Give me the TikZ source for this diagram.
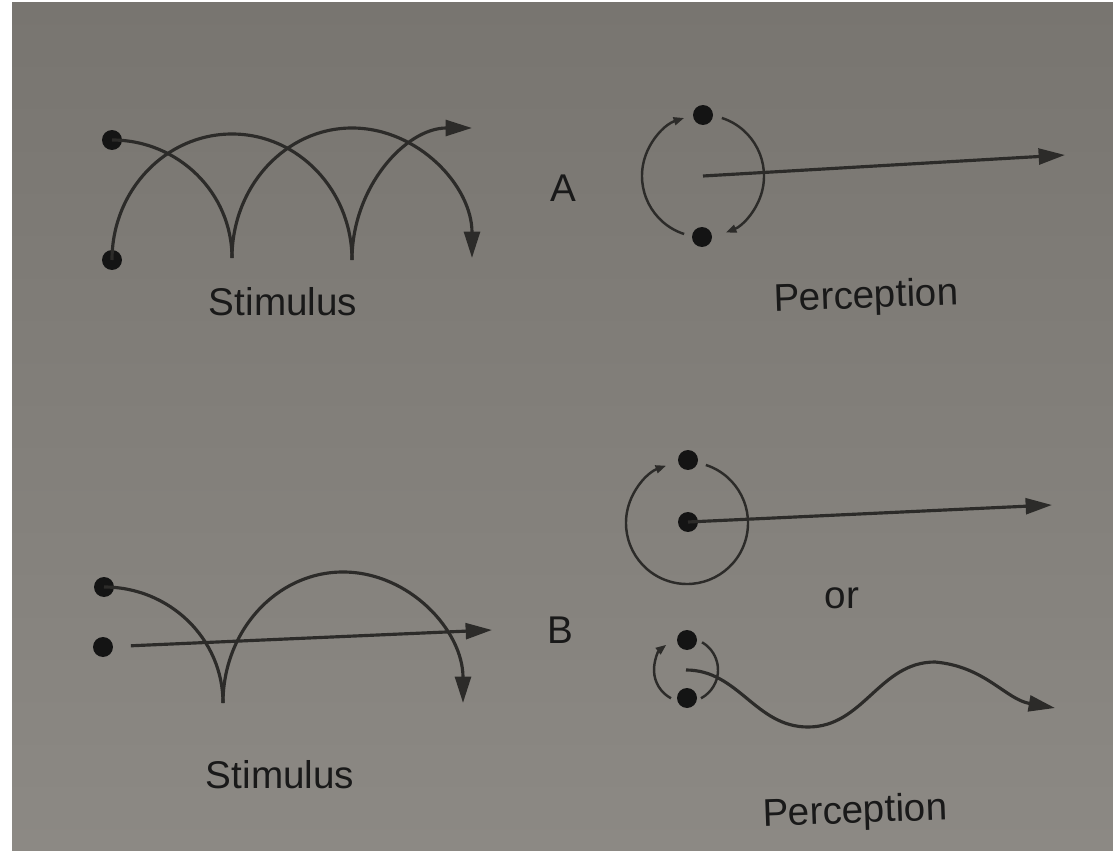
\documentclass[tikz,border=0pt]{standalone}
\usepackage{fontspec}
\setmainfont{Liberation Sans}
\usetikzlibrary{arrows.meta}
\definecolor{paperdark}{RGB}{120,117,112}
\definecolor{paperlight}{RGB}{140,137,132}
\definecolor{ink}{RGB}{44,43,41}

\begin{document}
\begin{tikzpicture}[x=0.02cm, y=0.02cm,
        dot/.style = {circle, fill=black!92, inner sep=0pt, minimum size=0.4cm},
        track/.style = {draw=ink, line width=1.8pt},
        trackarrow/.style = {track, -{Triangle[length=15pt, width=9pt]}},
        spin/.style = {draw=ink, line width=1.4pt, -{Triangle[length=6pt, width=4.5pt]}},
        caption/.style = {font=\fontsize{22}{26}\selectfont, text=black!90}
    ]
    % photographed page
    \fill[white] (0,0) rectangle (1113,850);
    \shade[top color=paperdark, bottom color=paperlight] (12,0) rectangle (1113,847);
    \useasboundingbox (0,0) rectangle (1113,850);

    % A: stimulus
    \node[dot] (atop) at (112,710) {};
    \node[dot] (abot) at (112,590) {};
    \draw[track] (atop.center) arc[start angle=90, end angle=0, x radius=120, y radius=118] coordinate (acusp1);
    \draw[track] (abot.center) arc[start angle=180, end angle=0, x radius=120, y radius=126] coordinate (acusp2);
    \draw[trackarrow] (acusp1) arc[start angle=180, end angle=0, x radius=120, y radius=130];
    \draw[trackarrow] (acusp2) arc[start angle=180, end angle=90, x radius=120, y radius=132];
    \node[caption] (stimA) at (283,548) {Stimulus};
    \node[caption] (labA) at (563,662) {A};

    % A: perception
    \coordinate (ahub) at (703,674);
    \coordinate (aend) at (1065,695);
    \node[dot] (ptop) at (703,735) {};
    \node[dot] (pbot) at (702,613) {};
    \draw[spin] ([shift={(252:61)}]ahub) arc[start angle=252, end angle=108, radius=61];
    \draw[spin] ([shift={(72:61)}]ahub) arc[start angle=72, end angle=-68, radius=61];
    \draw[trackarrow] (ahub) -- (aend);
    \node[caption, rotate=2] (percA) at (866,552) {Perception};

    % B: stimulus
    \coordinate (blineend) at (492,220);
    \node[dot] (btop) at (104,263) {};
    \node[dot] (bmid) at (103,203) {};
    \draw[track] (btop.center) arc[start angle=90, end angle=0, x radius=119, y radius=116] coordinate (bcusp);
    \draw[trackarrow] (bcusp) arc[start angle=180, end angle=0, x radius=120, y radius=131];
    \draw[trackarrow, shorten <=10pt] (bmid) -- (blineend);
    \node[caption] (stimB) at (280,75) {Stimulus};
    \node[caption] (labB) at (560,220) {B};

    % B: perception, first reading
    \coordinate (bhub) at (687,327);
    \coordinate (orbitend) at (1052,345);
    \node[dot] (qtop) at (688,390) {};
    \node[dot] (qmid) at (688,328) {};
    \draw[spin] ([shift={(72:61)}]bhub) arc[start angle=72, end angle=-250, radius=61];
    \draw[trackarrow] (qmid.center) -- (orbitend);
    \node[caption] (orlab) at (842,252) {or};

    % B: perception, second reading
    \coordinate (chub) at (686,180);
    \coordinate (wtrough) at (808,123);
    \coordinate (wcrest) at (935,188);
    \coordinate (wend) at (1055,142);
    \node[dot] (rtop) at (687,210) {};
    \node[dot] (rbot) at (687,152) {};
    \draw[track, line width=1.4pt] ([shift={(60:32)}]chub) arc[start angle=60, end angle=-62, radius=32];
    \draw[spin] ([shift={(242:32)}]chub) arc[start angle=242, end angle=128, radius=32];
    \draw[trackarrow] (chub) to[out=0, in=180] (wtrough) to[out=0, in=180] (wcrest) to[out=-5, in=170] (wend);
    \node[caption, rotate=2] (percB) at (855,37) {Perception};
\end{tikzpicture}
\end{document}
